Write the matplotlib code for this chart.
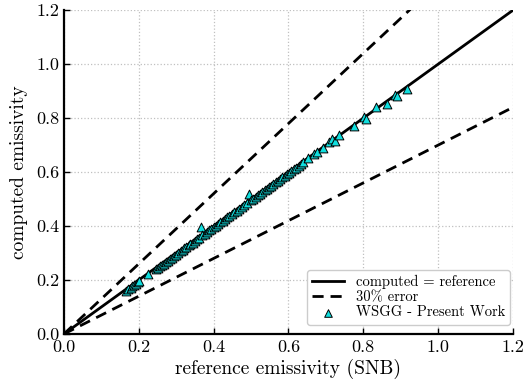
import matplotlib
matplotlib.use('Agg')
import matplotlib.pyplot as plt

plt.rcParams['font.family'] = 'serif'
plt.rcParams['font.serif'] = ['cmr10', 'DejaVu Serif']
plt.rcParams['mathtext.fontset'] = 'cm'
plt.rcParams['axes.formatter.use_mathtext'] = True

# reference (SNB) vs computed (WSGG) emissivity
ref = [0.165, 0.172, 0.178, 0.183, 0.188, 0.192, 0.197, 0.201, 0.225, 0.245,
       0.252, 0.258, 0.263, 0.268, 0.273, 0.278, 0.283, 0.288, 0.293, 0.300,
       0.306, 0.312, 0.318, 0.322, 0.327, 0.333, 0.338, 0.344, 0.350, 0.356,
       0.362, 0.366, 0.370, 0.376, 0.382, 0.388, 0.394, 0.400, 0.406, 0.412,
       0.418, 0.424, 0.430, 0.436, 0.442, 0.448, 0.455, 0.462, 0.468, 0.475,
       0.482, 0.488, 0.495, 0.500, 0.506, 0.512, 0.518, 0.524, 0.530, 0.536,
       0.542, 0.548, 0.554, 0.560, 0.566, 0.572, 0.578, 0.584, 0.590, 0.596,
       0.602, 0.608, 0.614, 0.620, 0.627, 0.634, 0.640, 0.653, 0.668, 0.676,
       0.691, 0.707, 0.717, 0.725, 0.736, 0.774, 0.802, 0.807, 0.834, 0.863,
       0.885, 0.889, 0.916]
comp = [0.160, 0.166, 0.171, 0.176, 0.181, 0.186, 0.192, 0.196, 0.222, 0.240,
        0.245, 0.251, 0.256, 0.260, 0.266, 0.271, 0.277, 0.283, 0.288, 0.294,
        0.301, 0.306, 0.312, 0.318, 0.322, 0.328, 0.334, 0.339, 0.346, 0.351,
        0.357, 0.395, 0.366, 0.371, 0.378, 0.384, 0.390, 0.396, 0.402, 0.408,
        0.414, 0.419, 0.426, 0.432, 0.437, 0.444, 0.451, 0.457, 0.464, 0.471,
        0.478, 0.484, 0.519, 0.496, 0.502, 0.508, 0.514, 0.520, 0.526, 0.532,
        0.538, 0.544, 0.550, 0.556, 0.562, 0.568, 0.574, 0.580, 0.586, 0.592,
        0.598, 0.604, 0.610, 0.616, 0.623, 0.630, 0.638, 0.653, 0.666, 0.673,
        0.691, 0.711, 0.722, 0.715, 0.737, 0.771, 0.803, 0.795, 0.840, 0.851,
        0.885, 0.883, 0.907]

ideal = [0.0, 1.2]
upper = [0.0, 1.3 * 1.2]
lower = [0.0, 0.7 * 1.2]

fig = plt.figure(figsize=(5.24, 3.92), dpi=100)
ax = fig.add_axes([0.122, 0.148, 0.857, 0.826])

ax.plot(ideal, ideal, color='black', lw=2, label='computed = reference', zorder=3)
ax.plot(ideal, upper, color='black', lw=2, ls=(0, (4, 2.5)), label=r'30% error', zorder=3)
ax.plot(ideal, lower, color='black', lw=2, ls=(0, (4, 2.5)), zorder=3)
ax.scatter(ref, comp, marker='^', s=40, facecolor='#10dede', edgecolor='black',
           linewidth=0.7, label='WSGG - Present Work', zorder=4)

ax.set_xlim(0, 1.2)
ax.set_ylim(0, 1.2)
ax.set_xticks([0.0, 0.2, 0.4, 0.6, 0.8, 1.0, 1.2])
ax.set_yticks([0.0, 0.2, 0.4, 0.6, 0.8, 1.0, 1.2])
ax.set_xticklabels(['0.0', '0.2', '0.4', '0.6', '0.8', '1.0', '1.2'])
ax.set_yticklabels(['0.0', '0.2', '0.4', '0.6', '0.8', '1.0', '1.2'])
ax.grid(True, ls=':', color='#c0c0c0', lw=0.9)
ax.set_axisbelow(True)
for s in ['top', 'right']:
    ax.spines[s].set_visible(False)
for s in ['left', 'bottom']:
    ax.spines[s].set_linewidth(1.6)
ax.tick_params(direction='in', length=4, width=1, labelsize=13, pad=3)
ax.tick_params(axis='x', pad=4)
ax.set_xlabel('reference emissivity (SNB)', fontsize=14, labelpad=3)
ax.set_ylabel('computed emissivity', fontsize=14, labelpad=6)

leg = ax.legend(loc='lower right', fontsize=10.5, handlelength=2.2, labelspacing=0.1,
                borderpad=0.35, handletextpad=0.8, framealpha=1, edgecolor='#cccccc',
                borderaxespad=0.2, bbox_to_anchor=(1.0, 0.02))
leg.legend_handles[2].set_sizes([30])

fig.savefig('out.png', dpi=100)
